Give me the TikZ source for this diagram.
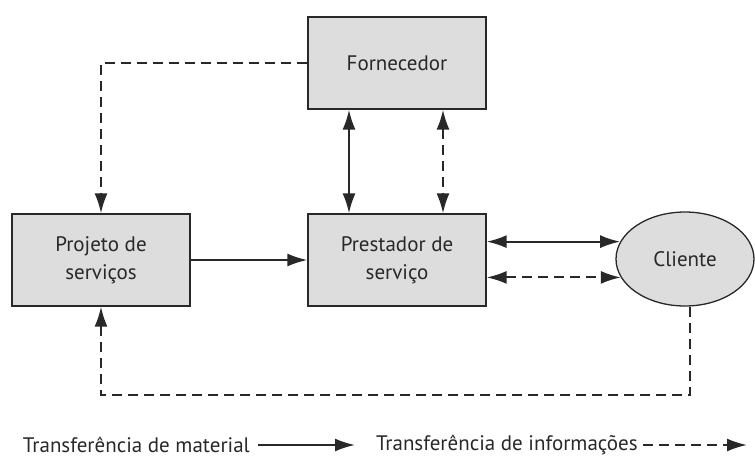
\documentclass[tikz,border=0pt]{standalone}
\usepackage{fontspec}
\setmainfont{PT Sans}
\usetikzlibrary{arrows.meta,shapes.geometric}

\definecolor{boxfill}{RGB}{221,221,221}
\definecolor{inkgray}{RGB}{40,40,40}
\def\boxw{178pt}
\def\boxh{92pt}

\begin{document}
\begin{tikzpicture}[x=1pt,y=1pt,font=\fontsize{21}{28}\selectfont,text=inkgray,line width=2pt,draw=inkgray,
    >={Latex[length=20pt,width=13pt]}]
    \tikzstyle{ent}=[rectangle,draw=inkgray,line width=1.3pt,fill=boxfill,minimum width=\boxw,minimum height=\boxh,inner sep=0pt,align=center]
    \tikzstyle{cliente}=[ellipse,draw=inkgray,line width=1.3pt,fill=boxfill,minimum width=138pt,minimum height=94pt,inner sep=0pt]
    \tikzstyle{mat}=[->]
    \tikzstyle{matboth}=[<->]
    \tikzstyle{dashes}=[dash pattern=on 10pt off 6pt]
    \tikzstyle{info}=[->,dashes]
    \tikzstyle{infoboth}=[<->,dashes]

    \useasboundingbox (0,0) rectangle (755,-459);

    \node[ent] (forn) at (397,-63) {Fornecedor};
    \node[ent] (proj) at (101,-260) {Projeto de\\serviços};
    \node[ent] (prest) at (397,-260) {Prestador de\\serviço};
    \node[cliente] (cli) at (685,-259) {Cliente};

    \draw[info] (forn.west) -| (proj.north);
    \draw[matboth] ([xshift=-48pt]forn.south) -- ([xshift=-48pt]prest.north);
    \draw[infoboth] ([xshift=46pt]forn.south) -- ([xshift=46pt]prest.north);
    \draw[mat] (proj.east) -- (prest.west);
    \draw[matboth] (prest.east |- cli.165) -- (cli.165);
    \draw[infoboth] (prest.east |- cli.196) -- (cli.196);
    \draw[info] ([xshift=5pt]cli.south) -- ++(0,-88) -| (proj.south);

    \node[anchor=west,inner sep=0pt] (lmat) at (22,-445) {Transferência de material};
    \coordinate (lmatend) at (355,-445);
    \node[anchor=west,inner sep=0pt] (linfo) at (375,-445) {Transferência de informações};
    \coordinate (linfoend) at (747,-445);
    \draw[mat] ([xshift=7pt]lmat.east) -- (lmatend);
    \draw[info] ([xshift=4pt]linfo.east) -- (linfoend);
\end{tikzpicture}
\end{document}
